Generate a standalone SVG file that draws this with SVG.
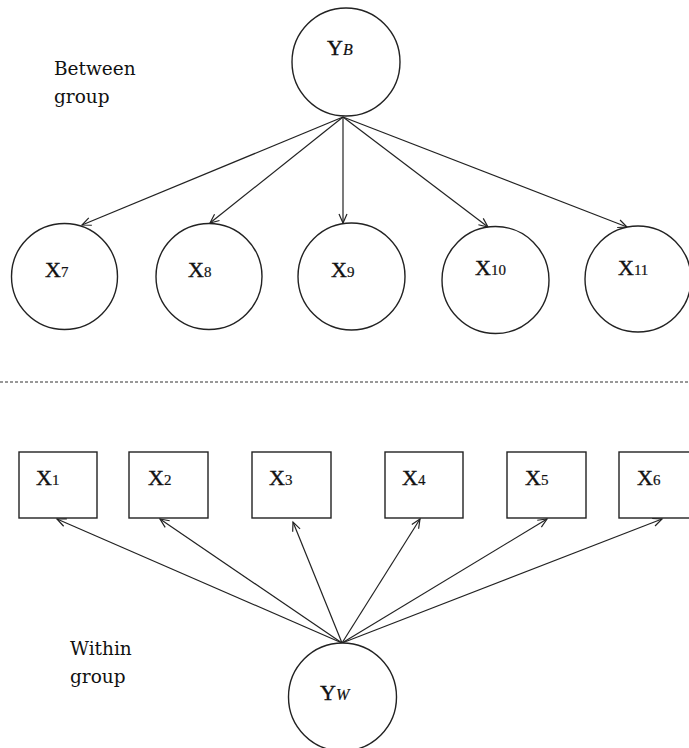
<svg xmlns="http://www.w3.org/2000/svg" width="689" height="748" viewBox="0 0 689 748">
<style>
.n{fill:#fff;stroke:#222;stroke-width:1.4}
.c{stroke:#222;stroke-width:1.2;fill:none;marker-end:url(#ah)}
.t{font-family:"Liberation Serif",serif;font-size:22px;fill:#111;stroke:#111;stroke-width:0.4}
.s{font-size:15px;stroke-width:0.2}
.i{font-style:italic;font-size:16px;stroke-width:0.2}
.lab{font-family:"DejaVu Serif",serif;font-size:18.5px;fill:#111}
</style>
<defs>
<marker id="ah" markerWidth="12" markerHeight="10" refX="10" refY="5" orient="auto" markerUnits="userSpaceOnUse">
<path d="M1,1 L10,5 L1,9" fill="none" stroke="#222" stroke-width="1.2"/>
</marker>
</defs>
<g id="labels">
<text class="lab" x="54" y="75">Between</text>
<text class="lab" x="54" y="103">group</text>
<text class="lab" x="70" y="655">Within</text>
<text class="lab" x="70" y="683">group</text>
</g>
<line x1="0" y1="382" x2="689" y2="382" stroke="#333" stroke-width="1" stroke-dasharray="3,2"/>
<g id="connectors">
<line class="c" x1="343" y1="117" x2="82" y2="225"/>
<line class="c" x1="343" y1="117" x2="210" y2="223"/>
<line class="c" x1="343" y1="117" x2="343" y2="223"/>
<line class="c" x1="343" y1="117" x2="488" y2="227"/>
<line class="c" x1="343" y1="117" x2="627" y2="227"/>
<line class="c" x1="342" y1="643" x2="57" y2="519"/>
<line class="c" x1="342" y1="643" x2="160" y2="519"/>
<line class="c" x1="342" y1="643" x2="293" y2="522"/>
<line class="c" x1="342" y1="643" x2="420" y2="519"/>
<line class="c" x1="342" y1="643" x2="547" y2="519"/>
<line class="c" x1="342" y1="643" x2="662" y2="519"/>
</g>
<g id="YB"><circle class="n" cx="346" cy="62" r="54"/><text class="t" x="327" y="55">Y<tspan class="i">B</tspan></text></g>
<g id="X7"><circle class="n" cx="64.5" cy="276.5" r="53"/><text class="t" x="45" y="277">X<tspan class="s">7</tspan></text></g>
<g id="X8"><circle class="n" cx="209" cy="276.5" r="53"/><text class="t" x="188" y="277">X<tspan class="s">8</tspan></text></g>
<g id="X9"><circle class="n" cx="351.5" cy="276.5" r="53.5"/><text class="t" x="331" y="277">X<tspan class="s">9</tspan></text></g>
<g id="X10"><circle class="n" cx="495.5" cy="280" r="53.5"/><text class="t" x="475" y="275">X<tspan class="s">10</tspan></text></g>
<g id="X11"><circle class="n" cx="638" cy="279" r="53"/><text class="t" x="618" y="275">X<tspan class="s">11</tspan></text></g>
<g id="X1"><rect class="n" x="19" y="452" width="78" height="66"/><text class="t" x="36" y="485">X<tspan class="s">1</tspan></text></g>
<g id="X2"><rect class="n" x="129" y="452" width="79" height="66"/><text class="t" x="148" y="485">X<tspan class="s">2</tspan></text></g>
<g id="X3"><rect class="n" x="252" y="452" width="79" height="66"/><text class="t" x="269" y="485">X<tspan class="s">3</tspan></text></g>
<g id="X4"><rect class="n" x="385" y="452" width="78" height="66"/><text class="t" x="402" y="485">X<tspan class="s">4</tspan></text></g>
<g id="X5"><rect class="n" x="507" y="452" width="79" height="66"/><text class="t" x="525" y="485">X<tspan class="s">5</tspan></text></g>
<g id="X6"><rect class="n" x="619" y="452" width="78" height="66"/><text class="t" x="637" y="485">X<tspan class="s">6</tspan></text></g>
<g id="YW"><circle class="n" cx="342.5" cy="697" r="54"/><text class="t" x="320" y="700">Y<tspan class="i">W</tspan></text></g>
</svg>
